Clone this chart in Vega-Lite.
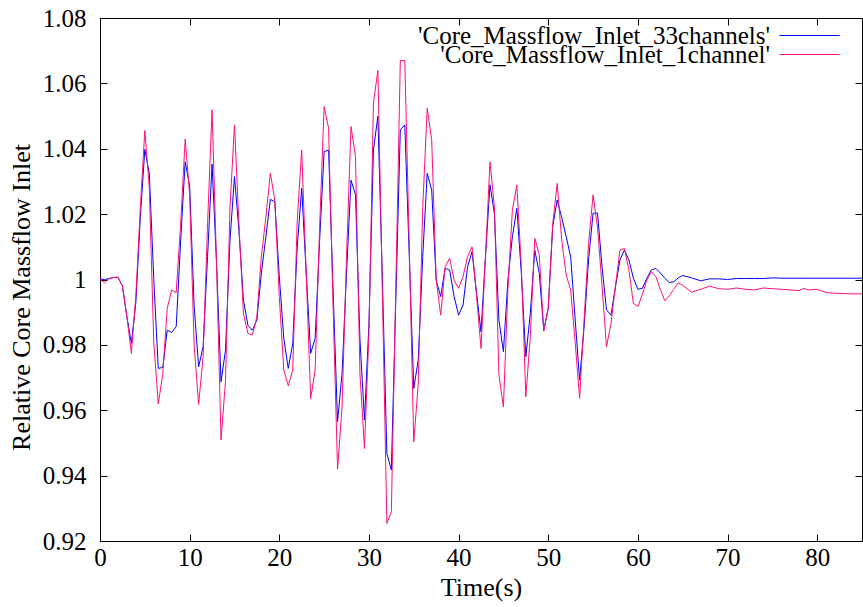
{
 "$schema": "https://vega.github.io/schema/vega-lite/v6.json",
 "width": 762, "height": 523,
 "autosize": "none",
 "padding": {"left": 100, "top": 18, "right": 1, "bottom": 66},
 "background": "white",
 "config": {
  "view": {"stroke": "#000", "strokeWidth": 1},
  "font": "Liberation Serif",
  "axis": {"grid": false, "domain": false, "tickColor": "#000", "tickSize": -7, "tickWidth": 1, "labelFlush": false,
           "labelFont": "Liberation Serif", "labelFontSize": 25, "labelColor": "#000",
           "titleFont": "Liberation Serif", "titleFontSize": 26, "titleFontWeight": "normal", "titleColor": "#000"},
  "legend": {"orient": "none", "title": null, "padding": 0, "symbolType": "stroke", "symbolSize": 3600, "symbolStrokeWidth": 1,
             "labelAlign": "right", "labelOffset": -70, "labelFont": "Liberation Serif", "labelFontSize": 25,
             "labelColor": "#000", "labelLimit": 600}
 },
 "data": {"values": [
{"t":0,"s":"33channels","v":1.0003},{"t":0.5,"s":"33channels","v":0.9999},{"t":1,"s":"33channels","v":1.0003},{"t":1.5,"s":"33channels","v":1.0006},{"t":2,"s":"33channels","v":1.0007},{"t":2.5,"s":"33channels","v":0.998},{"t":3,"s":"33channels","v":0.9886},{"t":3.5,"s":"33channels","v":0.9805},{"t":4,"s":"33channels","v":0.993},{"t":4.5,"s":"33channels","v":1.019},{"t":5,"s":"33channels","v":1.0398},{"t":5.5,"s":"33channels","v":1.0325},{"t":6,"s":"33channels","v":1.0},{"t":6.5,"s":"33channels","v":0.9728},{"t":7,"s":"33channels","v":0.9731},{"t":7.5,"s":"33channels","v":0.9845},{"t":8,"s":"33channels","v":0.9838},{"t":8.5,"s":"33channels","v":0.9856},{"t":9,"s":"33channels","v":1.012},{"t":9.5,"s":"33channels","v":1.036},{"t":10,"s":"33channels","v":1.0287},{"t":10.5,"s":"33channels","v":0.992},{"t":11,"s":"33channels","v":0.9733},{"t":11.5,"s":"33channels","v":0.9794},{"t":12,"s":"33channels","v":1.007},{"t":12.5,"s":"33channels","v":1.0353},{"t":13,"s":"33channels","v":1.005},{"t":13.5,"s":"33channels","v":0.9687},{"t":14,"s":"33channels","v":0.9784},{"t":14.5,"s":"33channels","v":1.012},{"t":15,"s":"33channels","v":1.0315},{"t":15.5,"s":"33channels","v":1.015},{"t":16,"s":"33channels","v":0.9937},{"t":16.5,"s":"33channels","v":0.986},{"t":17,"s":"33channels","v":0.9845},{"t":17.5,"s":"33channels","v":0.9876},{"t":18,"s":"33channels","v":1.002},{"t":18.5,"s":"33channels","v":1.013},{"t":19,"s":"33channels","v":1.0245},{"t":19.5,"s":"33channels","v":1.0238},{"t":20,"s":"33channels","v":1.001},{"t":20.5,"s":"33channels","v":0.982},{"t":21,"s":"33channels","v":0.9728},{"t":21.5,"s":"33channels","v":0.9804},{"t":22,"s":"33channels","v":1.01},{"t":22.5,"s":"33channels","v":1.0279},{"t":23,"s":"33channels","v":1.002},{"t":23.5,"s":"33channels","v":0.9774},{"t":24,"s":"33channels","v":0.982},{"t":24.5,"s":"33channels","v":1.012},{"t":25,"s":"33channels","v":1.0391},{"t":25.5,"s":"33channels","v":1.0396},{"t":26,"s":"33channels","v":0.9968},{"t":26.5,"s":"33channels","v":0.9565},{"t":27,"s":"33channels","v":0.9713},{"t":27.5,"s":"33channels","v":1.002},{"t":28,"s":"33channels","v":1.0304},{"t":28.5,"s":"33channels","v":1.0259},{"t":29,"s":"33channels","v":0.9815},{"t":29.5,"s":"33channels","v":0.957},{"t":30,"s":"33channels","v":0.9865},{"t":30.5,"s":"33channels","v":1.0396},{"t":31,"s":"33channels","v":1.05},{"t":31.5,"s":"33channels","v":1.0},{"t":32,"s":"33channels","v":0.9468},{"t":32.5,"s":"33channels","v":0.9417},{"t":33,"s":"33channels","v":0.994},{"t":33.5,"s":"33channels","v":1.0458},{"t":34,"s":"33channels","v":1.0473},{"t":34.5,"s":"33channels","v":1.007},{"t":35,"s":"33channels","v":0.9667},{"t":35.5,"s":"33channels","v":0.9753},{"t":36,"s":"33channels","v":1.007},{"t":36.5,"s":"33channels","v":1.0325},{"t":37,"s":"33channels","v":1.0274},{"t":37.5,"s":"33channels","v":0.9998},{"t":38,"s":"33channels","v":0.9948},{"t":38.5,"s":"33channels","v":1.0034},{"t":39,"s":"33channels","v":1.0029},{"t":39.5,"s":"33channels","v":0.9948},{"t":40,"s":"33channels","v":0.9891},{"t":40.5,"s":"33channels","v":0.9922},{"t":41,"s":"33channels","v":1.0039},{"t":41.5,"s":"33channels","v":1.0085},{"t":42,"s":"33channels","v":0.996},{"t":42.5,"s":"33channels","v":0.984},{"t":43,"s":"33channels","v":1.007},{"t":43.5,"s":"33channels","v":1.029},{"t":44,"s":"33channels","v":1.02},{"t":44.5,"s":"33channels","v":0.9876},{"t":45,"s":"33channels","v":0.9779},{"t":45.5,"s":"33channels","v":0.9998},{"t":46,"s":"33channels","v":1.0131},{"t":46.5,"s":"33channels","v":1.0218},{"t":47,"s":"33channels","v":1.0019},{"t":47.5,"s":"33channels","v":0.9764},{"t":48,"s":"33channels","v":0.9896},{"t":48.5,"s":"33channels","v":1.009},{"t":49,"s":"33channels","v":1.0019},{"t":49.5,"s":"33channels","v":0.9845},{"t":50,"s":"33channels","v":0.9912},{"t":50.5,"s":"33channels","v":1.0162},{"t":51,"s":"33channels","v":1.0243},{"t":51.5,"s":"33channels","v":1.019},{"t":52,"s":"33channels","v":1.0131},{"t":52.5,"s":"33channels","v":1.007},{"t":53,"s":"33channels","v":0.988},{"t":53.5,"s":"33channels","v":0.9692},{"t":54,"s":"33channels","v":0.9855},{"t":54.5,"s":"33channels","v":1.006},{"t":55,"s":"33channels","v":1.0203},{"t":55.5,"s":"33channels","v":1.0203},{"t":56,"s":"33channels","v":1.0039},{"t":56.5,"s":"33channels","v":0.9907},{"t":57,"s":"33channels","v":0.9891},{"t":57.5,"s":"33channels","v":0.9978},{"t":58,"s":"33channels","v":1.006},{"t":58.5,"s":"33channels","v":1.009},{"t":59,"s":"33channels","v":1.006},{"t":59.5,"s":"33channels","v":1.0004},{"t":60,"s":"33channels","v":0.997},{"t":60.5,"s":"33channels","v":0.9973},{"t":61,"s":"33channels","v":1.0004},{"t":61.5,"s":"33channels","v":1.0029},{"t":62,"s":"33channels","v":1.0034},{"t":62.5,"s":"33channels","v":1.002},{"t":63,"s":"33channels","v":1.0004},{"t":63.5,"s":"33channels","v":0.9991},{"t":64,"s":"33channels","v":0.9993},{"t":64.5,"s":"33channels","v":1.0005},{"t":65,"s":"33channels","v":1.0012},{"t":66,"s":"33channels","v":1.0005},{"t":67,"s":"33channels","v":0.9996},{"t":68,"s":"33channels","v":1.0002},{"t":69,"s":"33channels","v":1.0002},{"t":70,"s":"33channels","v":1.0},{"t":71,"s":"33channels","v":1.0003},{"t":72,"s":"33channels","v":1.0003},{"t":73,"s":"33channels","v":1.0003},{"t":74,"s":"33channels","v":1.0003},{"t":75,"s":"33channels","v":1.0005},{"t":76,"s":"33channels","v":1.0004},{"t":77,"s":"33channels","v":1.0004},{"t":78,"s":"33channels","v":1.0004},{"t":79,"s":"33channels","v":1.0004},{"t":80,"s":"33channels","v":1.0004},{"t":81,"s":"33channels","v":1.0004},{"t":82,"s":"33channels","v":1.0004},{"t":83,"s":"33channels","v":1.0004},{"t":84,"s":"33channels","v":1.0004},{"t":85,"s":"33channels","v":1.0004},
{"t":0,"s":"1channel","v":1.0003},{"t":0.5,"s":"1channel","v":0.999},{"t":1,"s":"1channel","v":1.0002},{"t":1.5,"s":"1channel","v":1.0006},{"t":2,"s":"1channel","v":1.0007},{"t":2.5,"s":"1channel","v":0.998},{"t":3,"s":"1channel","v":0.9886},{"t":3.5,"s":"1channel","v":0.9774},{"t":4,"s":"1channel","v":0.995},{"t":4.5,"s":"1channel","v":1.022},{"t":5,"s":"1channel","v":1.0456},{"t":5.5,"s":"1channel","v":1.028},{"t":6,"s":"1channel","v":0.9806},{"t":6.5,"s":"1channel","v":0.962},{"t":7,"s":"1channel","v":0.971},{"t":7.5,"s":"1channel","v":0.9912},{"t":8,"s":"1channel","v":0.9968},{"t":8.5,"s":"1channel","v":0.996},{"t":9,"s":"1channel","v":1.017},{"t":9.5,"s":"1channel","v":1.043},{"t":10,"s":"1channel","v":1.026},{"t":10.5,"s":"1channel","v":0.98},{"t":11,"s":"1channel","v":0.9618},{"t":11.5,"s":"1channel","v":0.9764},{"t":12,"s":"1channel","v":1.017},{"t":12.5,"s":"1channel","v":1.0519},{"t":13,"s":"1channel","v":1.005},{"t":13.5,"s":"1channel","v":0.9509},{"t":14,"s":"1channel","v":0.969},{"t":14.5,"s":"1channel","v":1.022},{"t":15,"s":"1channel","v":1.0473},{"t":15.5,"s":"1channel","v":1.017},{"t":16,"s":"1channel","v":0.9896},{"t":16.5,"s":"1channel","v":0.9835},{"t":17,"s":"1channel","v":0.983},{"t":17.5,"s":"1channel","v":0.9886},{"t":18,"s":"1channel","v":1.007},{"t":18.5,"s":"1channel","v":1.019},{"t":19,"s":"1channel","v":1.0325},{"t":19.5,"s":"1channel","v":1.0243},{"t":20,"s":"1channel","v":0.9948},{"t":20.5,"s":"1channel","v":0.9723},{"t":21,"s":"1channel","v":0.9675},{"t":21.5,"s":"1channel","v":0.9723},{"t":22,"s":"1channel","v":1.018},{"t":22.5,"s":"1channel","v":1.0396},{"t":23,"s":"1channel","v":1.002},{"t":23.5,"s":"1channel","v":0.9636},{"t":24,"s":"1channel","v":0.9723},{"t":24.5,"s":"1channel","v":1.016},{"t":25,"s":"1channel","v":1.0529},{"t":25.5,"s":"1channel","v":1.0463},{"t":26,"s":"1channel","v":0.9917},{"t":26.5,"s":"1channel","v":0.942},{"t":27,"s":"1channel","v":0.961},{"t":27.5,"s":"1channel","v":1.007},{"t":28,"s":"1channel","v":1.0468},{"t":28.5,"s":"1channel","v":1.0376},{"t":29,"s":"1channel","v":0.971},{"t":29.5,"s":"1channel","v":0.9483},{"t":30,"s":"1channel","v":0.9835},{"t":30.5,"s":"1channel","v":1.054},{"t":31,"s":"1channel","v":1.064},{"t":31.5,"s":"1channel","v":0.996},{"t":32,"s":"1channel","v":0.9254},{"t":32.5,"s":"1channel","v":0.929},{"t":33,"s":"1channel","v":0.998},{"t":33.5,"s":"1channel","v":1.067},{"t":34,"s":"1channel","v":1.067},{"t":34.5,"s":"1channel","v":1.01},{"t":35,"s":"1channel","v":0.9503},{"t":35.5,"s":"1channel","v":0.968},{"t":36,"s":"1channel","v":1.022},{"t":36.5,"s":"1channel","v":1.0524},{"t":37,"s":"1channel","v":1.0427},{"t":37.5,"s":"1channel","v":1.0},{"t":38,"s":"1channel","v":0.9891},{"t":38.5,"s":"1channel","v":1.0039},{"t":39,"s":"1channel","v":1.0065},{"t":39.5,"s":"1channel","v":0.9998},{"t":40,"s":"1channel","v":0.9973},{"t":40.5,"s":"1channel","v":1.0009},{"t":41,"s":"1channel","v":1.007},{"t":41.5,"s":"1channel","v":1.01},{"t":42,"s":"1channel","v":0.995},{"t":42.5,"s":"1channel","v":0.9789},{"t":43,"s":"1channel","v":1.007},{"t":43.5,"s":"1channel","v":1.036},{"t":44,"s":"1channel","v":1.022},{"t":44.5,"s":"1channel","v":0.9708},{"t":45,"s":"1channel","v":0.961},{"t":45.5,"s":"1channel","v":0.997},{"t":46,"s":"1channel","v":1.0213},{"t":46.5,"s":"1channel","v":1.0289},{"t":47,"s":"1channel","v":1.004},{"t":47.5,"s":"1channel","v":0.9641},{"t":48,"s":"1channel","v":0.9825},{"t":48.5,"s":"1channel","v":1.0126},{"t":49,"s":"1channel","v":1.0075},{"t":49.5,"s":"1channel","v":0.9842},{"t":50,"s":"1channel","v":0.9912},{"t":50.5,"s":"1channel","v":1.017},{"t":51,"s":"1channel","v":1.0294},{"t":51.5,"s":"1channel","v":1.0121},{"t":52,"s":"1channel","v":1.0014},{"t":52.5,"s":"1channel","v":0.9968},{"t":53,"s":"1channel","v":0.981},{"t":53.5,"s":"1channel","v":0.9636},{"t":54,"s":"1channel","v":0.9876},{"t":54.5,"s":"1channel","v":1.011},{"t":55,"s":"1channel","v":1.0259},{"t":55.5,"s":"1channel","v":1.016},{"t":56,"s":"1channel","v":0.998},{"t":56.5,"s":"1channel","v":0.9794},{"t":57,"s":"1channel","v":0.9866},{"t":57.5,"s":"1channel","v":0.998},{"t":58,"s":"1channel","v":1.009},{"t":58.5,"s":"1channel","v":1.0095},{"t":59,"s":"1channel","v":1.0029},{"t":59.5,"s":"1channel","v":0.9927},{"t":60,"s":"1channel","v":0.9917},{"t":60.5,"s":"1channel","v":0.9955},{"t":61,"s":"1channel","v":0.9998},{"t":61.5,"s":"1channel","v":1.0024},{"t":62,"s":"1channel","v":1.0009},{"t":62.5,"s":"1channel","v":0.997},{"t":63,"s":"1channel","v":0.9935},{"t":63.5,"s":"1channel","v":0.995},{"t":64,"s":"1channel","v":0.997},{"t":64.5,"s":"1channel","v":0.999},{"t":65,"s":"1channel","v":0.9982},{"t":66,"s":"1channel","v":0.9961},{"t":67,"s":"1channel","v":0.997},{"t":68,"s":"1channel","v":0.998},{"t":69,"s":"1channel","v":0.9972},{"t":70,"s":"1channel","v":0.997},{"t":71,"s":"1channel","v":0.9974},{"t":72,"s":"1channel","v":0.997},{"t":73,"s":"1channel","v":0.9968},{"t":74,"s":"1channel","v":0.9974},{"t":75,"s":"1channel","v":0.9972},{"t":76,"s":"1channel","v":0.997},{"t":77,"s":"1channel","v":0.9968},{"t":78,"s":"1channel","v":0.9966},{"t":78.5,"s":"1channel","v":0.9973},{"t":79,"s":"1channel","v":0.9968},{"t":80,"s":"1channel","v":0.997},{"t":81,"s":"1channel","v":0.996},{"t":82,"s":"1channel","v":0.9958},{"t":83,"s":"1channel","v":0.9957},{"t":84,"s":"1channel","v":0.9956},{"t":85,"s":"1channel","v":0.9956}
 ]},
 "layer": [
  {
   "transform": [{"filter": "datum.s == '33channels'"}],
   "mark": {"type": "line", "strokeWidth": 1},
   "encoding": {
    "x": {"field": "t", "type": "quantitative", "scale": {"domain": [0, 85], "nice": false, "zero": false},
          "axis": {"orient": "bottom", "values": [0,10,20,30,40,50,60,70,80], "title": "Time(s)", "labelPadding": 11, "titlePadding": 4}},
    "y": {"field": "v", "type": "quantitative", "scale": {"domain": [0.92, 1.08], "nice": false, "zero": false},
          "axis": {"orient": "left", "values": [0.92,0.94,0.96,0.98,1,1.02,1.04,1.06,1.08], "labelExpr": "format(datum.value, '.2~f')", "title": "Relative Core Massflow Inlet", "labelPadding": 21, "titlePadding": 8, "titleY": 279}},
    "color": {"field": "s", "type": "nominal",
              "scale": {"domain": ["33channels"], "range": ["#0000ff"]},
              "legend": {"legendX": 679, "legendY": -13, "labelExpr": "\"'Core_Massflow_Inlet_\" + datum.label + \"'\""}}
   }
  },
  {
   "transform": [{"filter": "datum.s == '1channel'"}],
   "mark": {"type": "line", "strokeWidth": 1},
   "encoding": {
    "x": {"field": "t", "type": "quantitative", "axis": {"orient": "top", "values": [0,10,20,30,40,50,60,70,80], "labels": false, "title": null}},
    "y": {"field": "v", "type": "quantitative", "axis": {"orient": "right", "values": [0.92,0.94,0.96,0.98,1,1.02,1.04,1.06,1.08], "labels": false, "title": null}},
    "color": {"field": "s", "type": "nominal",
              "scale": {"domain": ["1channel"], "range": ["#ff0f7b"]},
              "legend": {"legendX": 679, "legendY": 6, "labelExpr": "\"'Core_Massflow_Inlet_\" + datum.label + \"'\""}}
   }
  }
 ],
 "resolve": {"axis": {"x": "independent", "y": "independent"}, "scale": {"color": "independent"}}
}
